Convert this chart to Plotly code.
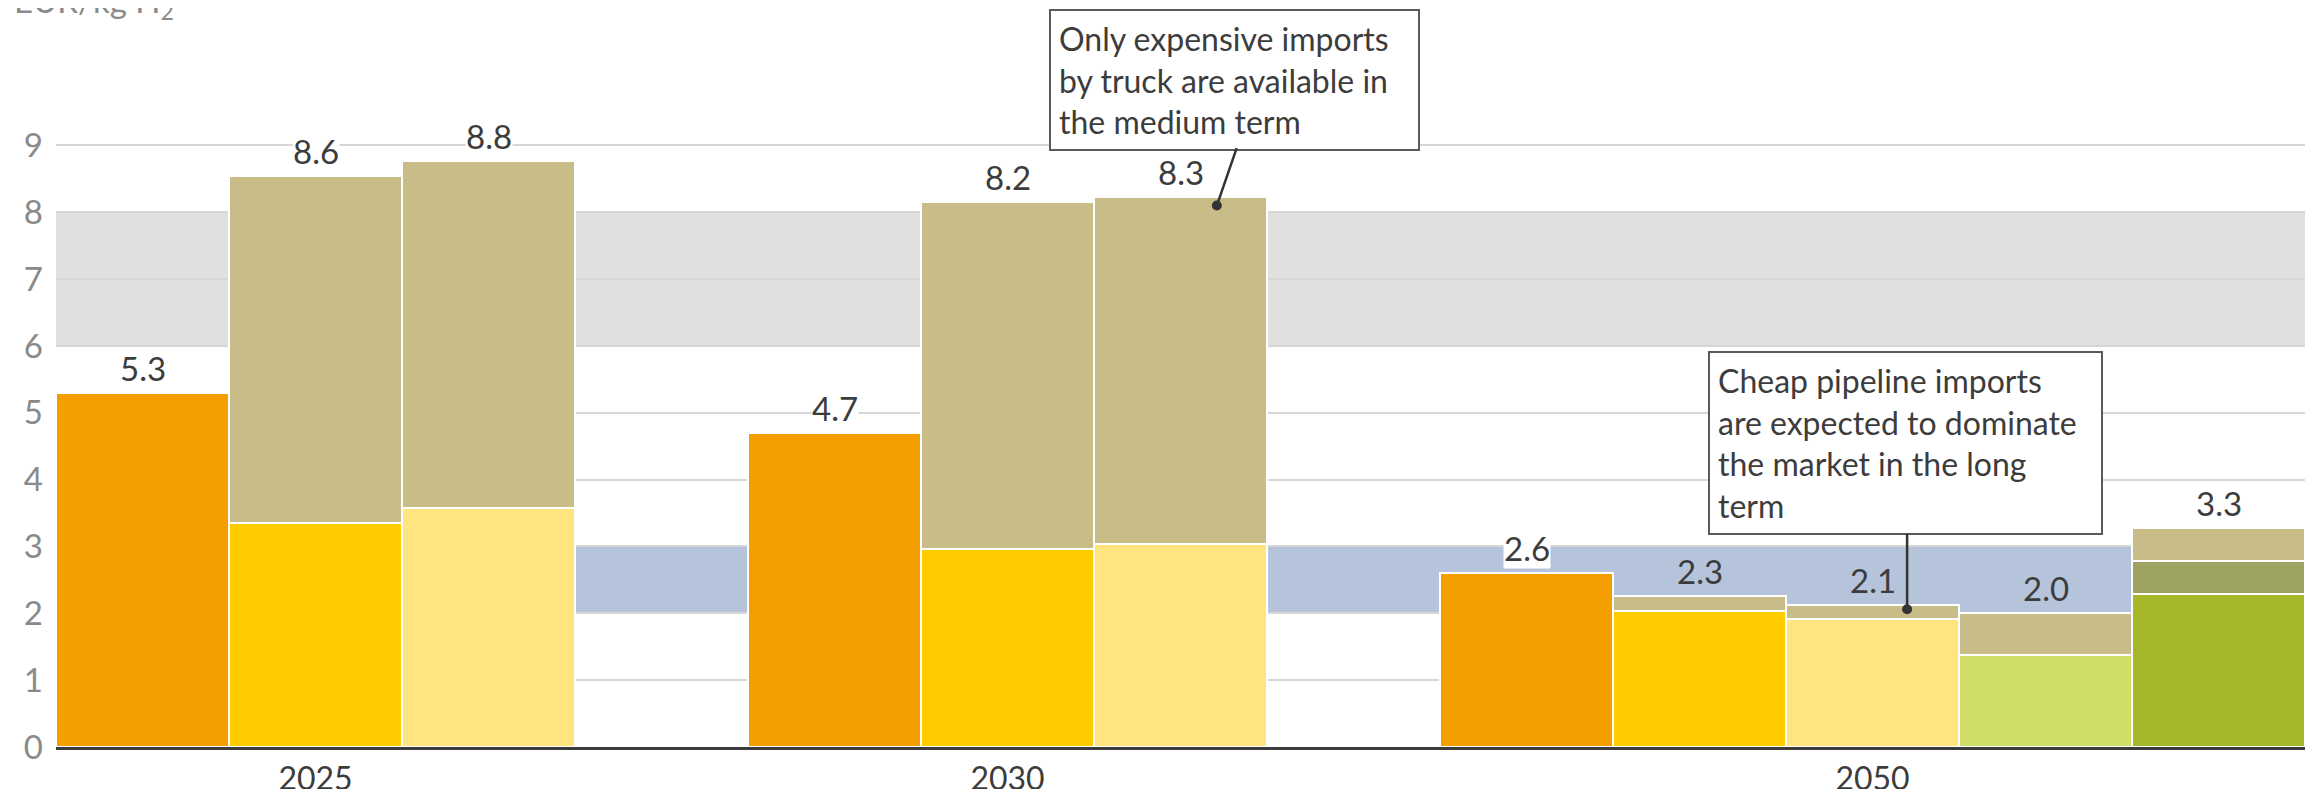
import plotly.graph_objects as go

# ---------------- data ----------------
slot_order = ["2025-1", "2025-2", "2025-3", "gap-a",
              "2030-1", "2030-2", "2030-3", "gap-b",
              "2050-1", "2050-2", "2050-3", "2050-4", "2050-5"]
bars = ["2025-1", "2025-2", "2025-3",
        "2030-1", "2030-2", "2030-3",
        "2050-1", "2050-2", "2050-3", "2050-4", "2050-5"]
base_cost = [5.3, 3.35, 3.58, 4.7, 2.96, 3.04, 2.6, 2.03, 1.91, 1.37, 2.29]
middle_cost = [None, None, None, None, None, None, None, None, None, None, 0.50]
transport_cost = [None, 5.20, 5.19, None, 5.19, 5.19, None, 0.23, 0.22, 0.64, 0.48]
total_labels = ["5.3", "8.6", "8.8", "4.7", "8.2", "8.3", "2.6", "2.3", "2.1", "2.0", "3.3"]
year_tick_slots = ["2025-2", "2030-2", "2050-3"]
year_tick_text = ["2025", "2030", "2050"]
y_ticks = [0, 1, 2, 3, 4, 5, 6, 7, 8, 9]
gray_band = [6, 8]
blue_band = [2, 3]
note_truck = "Only expensive imports<br>by truck are available in<br>the medium term"
note_pipe = "Cheap pipeline imports<br>are expected to dominate<br>the market in the long<br>term"
y_title = "EUR/kg H<sub>2</sub>"

# ---------------- styles ----------------
ORANGE = "#F49E00"
YELLOW = "#FFCC00"
LIGHTYELLOW = "#FFE480"
LIGHTGREEN = "#D0DE66"
GREEN = "#A6B82A"
OLIVE = "#9EA362"
TAN = "#C8BC89"
base_colors = [ORANGE, YELLOW, LIGHTYELLOW, ORANGE, YELLOW, LIGHTYELLOW,
               ORANGE, YELLOW, LIGHTYELLOW, LIGHTGREEN, GREEN]
no_bg_labels = {"2050-2", "2050-3", "2050-4"}
FONT = "Lato"
TXT = "#3c3c3c"
GREY_TXT = "#8a8a8a"

fig = go.Figure()
line_style = dict(color="white", width=2)
fig.add_trace(go.Bar(x=bars, y=base_cost, marker=dict(color=base_colors, line=line_style),
                     showlegend=False, hoverinfo="skip"))
fig.add_trace(go.Bar(x=bars, y=middle_cost, marker=dict(color=OLIVE, line=line_style),
                     showlegend=False, hoverinfo="skip"))
fig.add_trace(go.Bar(x=bars, y=transport_cost, marker=dict(color=TAN, line=line_style),
                     showlegend=False, hoverinfo="skip"))

# reference bands
fig.add_shape(type="rect", xref="paper", yref="y", x0=0, x1=1, y0=gray_band[0], y1=gray_band[1],
              fillcolor="#E0E0DF", line_width=0, layer="below")
fig.add_shape(type="rect", xref="paper", yref="y", x0=0, x1=1, y0=blue_band[0], y1=blue_band[1],
              fillcolor="#B5C4DB", line_width=0, layer="below")

# total labels
for i, b in enumerate(bars):
    total = sum(v for v in (base_cost[i], middle_cost[i], transport_cost[i]) if v)
    fig.add_annotation(x=b, y=total, text=total_labels[i], showarrow=False,
                       xanchor="center", yanchor="bottom", yshift=4,
                       font=dict(family=FONT, size=33, color=TXT),
                       bgcolor=None if b in no_bg_labels else "white", borderpad=0)

# callouts
def callout(text, box_x, box_y, box_w, anchor_bar, dx, val, ax, ay):
    fig.add_annotation(xref="paper", yref="paper", x=box_x, y=box_y, text=text,
                       showarrow=False, xanchor="center", yanchor="top", align="left",
                       width=box_w,
                       font=dict(family=FONT, size=32, color=TXT),
                       bgcolor="white", bordercolor="#5a5a5a", borderwidth=2, borderpad=8)
    fig.add_annotation(x=slot_order.index(anchor_bar) + dx, y=val, text="",
                       showarrow=True, arrowhead=6, arrowsize=1, arrowwidth=2.5,
                       arrowcolor="#333333", ax=ax, ay=ay, borderpad=0, standoff=0)

callout(note_truck, 0.524, 1.1625, 351, "2030-3", 0.21, 8.10, 20, -58)
callout(note_pipe, 0.8224, 0.6234, 375, "2050-3", 0.20, 2.06, 0, -76)

# y-axis title
fig.add_annotation(xref="paper", yref="paper", x=-0.0196, y=1.134, text=y_title,
                   showarrow=False, xanchor="left", yanchor="bottom",
                   font=dict(family=FONT, size=33, color=GREY_TXT))

# the page body adds an 8px margin around the figure
fig.update_layout(
    width=2297, height=781, autosize=False,
    margin=dict(l=48, r=0, t=104, b=42),
    paper_bgcolor="white", plot_bgcolor="white",
    barmode="stack", bargap=0,
    font=dict(family=FONT),
    xaxis=dict(type="category", categoryorder="array", categoryarray=slot_order,
               range=[-0.5, len(slot_order) - 0.5], automargin=False,
               tickmode="array", tickvals=year_tick_slots, ticktext=year_tick_text,
               tickfont=dict(family=FONT, size=32, color=TXT),
               showline=True, linecolor="#3c3c3c", linewidth=2.5,
               showgrid=False, ticks="", ticklabelstandoff=2),
    yaxis=dict(range=[0, 9.5], tickmode="array", tickvals=y_ticks, automargin=False,
               tickfont=dict(family=FONT, size=33, color=GREY_TXT),
               showgrid=True, gridcolor="#D6D6D6", gridwidth=2,
               zeroline=False, showline=False, ticks="", ticklabelstandoff=12),
)

fig.write_html("out.html")
